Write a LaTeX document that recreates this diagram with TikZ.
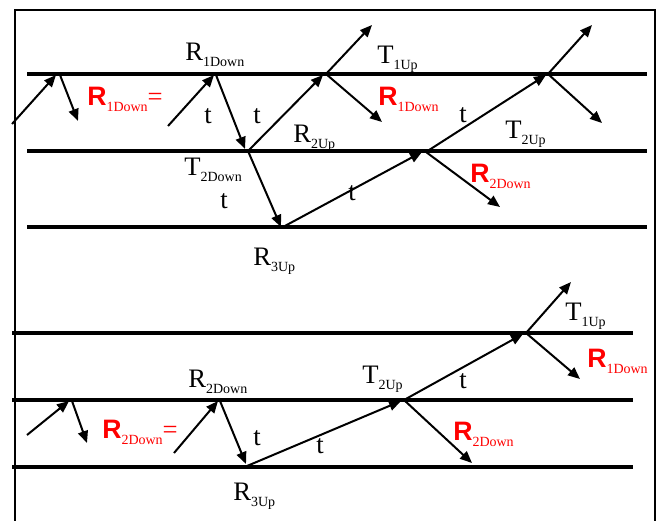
\documentclass[tikz,border=0pt]{standalone}
\usepackage{fontspec}
\setmainfont{Liberation Serif}
\setsansfont{Liberation Sans}
\usetikzlibrary{arrows.meta}
\newcommand{\blab}[2]{{\fontsize{20}{20}\selectfont #1}\raisebox{-5pt}{\fontsize{10.5}{10.5}\selectfont #2}}
\newcommand{\rlab}[1]{{\fontsize{20}{20}\selectfont\sffamily\bfseries R}\raisebox{-5pt}{\fontsize{10.5}{10.5}\selectfont #1}}
\tikzset{
  layer/.style={line width=3.6pt},
  ray/.style={line width=1.5pt,-{Triangle[length=9pt,width=7.5pt]}},
  frame/.style={line width=1.3pt},
  lbl/.style={inner sep=0pt,anchor=base west},
  tlbl/.style={inner sep=0pt,anchor=base,font=\fontsize{20}{20}\selectfont},
  redlbl/.style={lbl,text=red}
}
\begin{document}
\begin{tikzpicture}[x=0.75pt,y=-0.75pt]
\useasboundingbox (0,0) rectangle (657,521);
% frame
\draw[frame] (15,521) -- (15,10) -- (655,10) -- (655,521);
% layers (top)
\draw[layer] (27,74) coordinate (l1a) -- (647,74) coordinate (l1b);
\draw[layer] (27,151) coordinate (l2a) -- (647,151) coordinate (l2b);
\draw[layer] (27,227) coordinate (l3a) -- (647,227) coordinate (l3b);
% layers (bottom)
\draw[layer] (12,333) coordinate (l4a) -- (633,333) coordinate (l4b);
\draw[layer] (12,400) coordinate (l5a) -- (633,400) coordinate (l5b);
\draw[layer] (12,467) coordinate (l6a) -- (633,467) coordinate (l6b);

% ---- top diagram coordinates
\coordinate (a1s) at (12,124);  \coordinate (a1e) at (56,75);
\coordinate (a2s) at (60,75);   \coordinate (a2e) at (78,121);
\coordinate (a3s) at (168,126); \coordinate (a3e) at (214,75);
\coordinate (a4s) at (216,75);  \coordinate (a4e) at (245,149);
\coordinate (j3) at (248,151);
\coordinate (a5e) at (323,75);
\coordinate (j4) at (326,74);
\coordinate (a6e) at (281,227);
\coordinate (j5) at (283,227);
\coordinate (a7e) at (422,152);
\coordinate (j6) at (426,152);
\coordinate (a8e) at (546,75);
\coordinate (j7) at (548,74);
\coordinate (u1) at (372,25);  \coordinate (d1) at (382,122);
\coordinate (u2) at (592,25);  \coordinate (d2) at (602,123);
\coordinate (d3) at (500,207);

\draw[ray] (a1s) -- (a1e);
\draw[ray] (a2s) -- (a2e);
\draw[ray] (a3s) -- (a3e);
\draw[ray] (a4s) -- (a4e);
\draw[ray] (j3) -- (a5e);
\draw[ray] (j4) -- (u1);
\draw[ray] (j4) -- (d1);
\draw[ray] (j3) -- (a6e);
\draw[ray] (j5) -- (a7e);
\draw[ray] (j6) -- (a8e);
\draw[ray] (j6) -- (d3);
\draw[ray] (j7) -- (u2);
\draw[ray] (j7) -- (d2);

% top labels
\node[redlbl] (r1eq) at (87,105) {\rlab{1Down}{\fontsize{20}{20}\selectfont =}};
\node[lbl] (r1d) at (185,60) {\blab{R}{1Down}};
\node[tlbl] (t1) at (208,123) {t};
\node[tlbl] (t2) at (257,123) {t};
\node[lbl] (r2u) at (293,142) {\blab{R}{2Up}};
\node[lbl] (t1u) at (377,63) {\blab{T}{1Up}};
\node[redlbl] (r1dr) at (378,105) {\rlab{1Down}};
\node[lbl] (t2d) at (184,175) {\blab{T}{2Down}};
\node[tlbl] (t3) at (224,208) {t};
\node[lbl] (r3u) at (253,265) {\blab{R}{3Up}};
\node[tlbl] (t4) at (352,200) {t};
\node[tlbl] (t5) at (463,122) {t};
\node[lbl] (t2u) at (505,138) {\blab{T}{2Up}};
\node[redlbl] (r2dr) at (470,182) {\rlab{2Down}};

% ---- bottom diagram coordinates
\coordinate (b1s) at (27,435);  \coordinate (b1e) at (69,401);
\coordinate (b2s) at (72,401);  \coordinate (b2e) at (87,443);
\coordinate (b3s) at (174,453); \coordinate (b3e) at (218,401);
\coordinate (b4s) at (220,401); \coordinate (b4e) at (246,464);
\coordinate (k1) at (247,466);
\coordinate (b5e) at (401,401);
\coordinate (k2) at (404,400);
\coordinate (b6e) at (523,334);
\coordinate (k3) at (526,333);
\coordinate (b7e) at (472,463);
\coordinate (b8e) at (571,282);
\coordinate (b9e) at (580,379);

\draw[ray] (b1s) -- (b1e);
\draw[ray] (b2s) -- (b2e);
\draw[ray] (b3s) -- (b3e);
\draw[ray] (b4s) -- (b4e);
\draw[ray] (k1) -- (b5e);
\draw[ray] (k2) -- (b6e);
\draw[ray] (k2) -- (b7e);
\draw[ray] (k3) -- (b8e);
\draw[ray] (k3) -- (b9e);

% bottom labels
\node[redlbl] (r2eq) at (102,438) {\rlab{2Down}{\fontsize{20}{20}\selectfont =}};
\node[lbl] (r2d) at (188,387) {\blab{R}{2Down}};
\node[tlbl] (t6) at (257,445) {t};
\node[tlbl] (t7) at (320,453) {t};
\node[lbl] (r3u2) at (233,500) {\blab{R}{3Up}};
\node[lbl] (t2u2) at (362,383) {\blab{T}{2Up}};
\node[tlbl] (t8) at (463,388) {t};
\node[redlbl] (r2dr2) at (453,440) {\rlab{2Down}};
\node[lbl] (t1u2) at (565,320) {\blab{T}{1Up}};
\node[redlbl] (r1dr2) at (587,367) {\rlab{1Down}};
\end{tikzpicture}
\end{document}
